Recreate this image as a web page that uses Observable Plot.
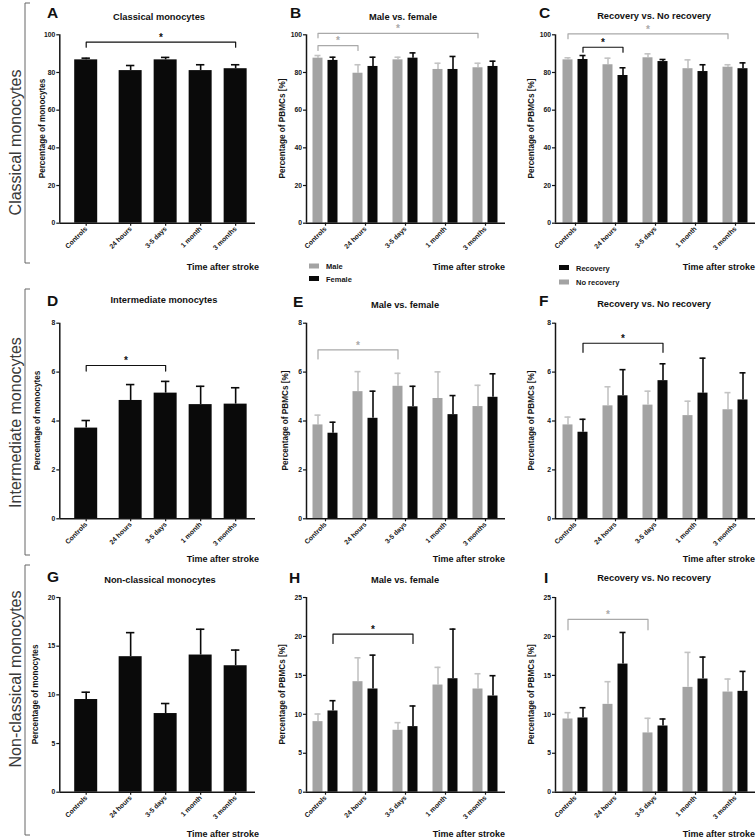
<!DOCTYPE html>
<html><head><meta charset="utf-8">
<script src="https://cdn.jsdelivr.net/npm/d3@7"></script>
<script src="https://cdn.jsdelivr.net/npm/@observablehq/plot@0.6"></script>
<style>
html,body{margin:0;padding:0;background:#fff;}
#fig{position:relative;width:756px;height:839px;overflow:hidden;font-family:"Liberation Sans",Arial,sans-serif;}
.panel{position:absolute;}
.panel svg{overflow:visible;max-width:none;}
</style></head><body><div id="fig"></div><script>
// ---------------- data ----------------
const timepoints = ["Controls", "24 hours", "3-5 days", "1 month", "3 months"];
const rowTitles = ["Classical monocytes", "Intermediate monocytes", "Non-classical monocytes"];
const panelTitles = ["Classical monocytes", "Male vs. female", "Recovery vs. No recovery",
                     "Intermediate monocytes", "Male vs. female", "Recovery vs. No recovery",
                     "Non-classical monocytes", "Male vs. female", "Recovery vs. No recovery"];
const panelLetters = ["A","B","C","D","E","F","G","H","I"];
const yLabelAll = "Percentage of monocytes";
const yLabelSub = "Percentage of PBMCs [%]";
const xTitle = "Time after stroke";
const legendSex = ["Male", "Female"];
const legendRecovery = ["Recovery", "No recovery"];

const yTicksClassical = [0, 20, 40, 60, 80, 100];
const yTicksInter = [0, 2, 4, 6, 8];
const yTicksNonclassAll = [0, 5, 10, 15, 20];
const yTicksNonclass = [0, 5, 10, 15, 20, 25];

// A
const classicalAll = [86.7, 81.0, 86.7, 81.0, 82.0];
const classicalAllSem = [0.9, 2.7, 1.3, 3.1, 2.1];
// B
const classicalMale = [87.6, 79.6, 86.7, 81.6, 82.5];
const classicalMaleSem = [1.4, 4.5, 1.4, 3.3, 2.4];
const classicalFemale = [86.4, 83.2, 87.6, 81.6, 83.2];
const classicalFemaleSem = [1.7, 4.9, 2.8, 6.9, 2.8];
// C
const classicalNoRec = [86.7, 84.1, 87.8, 82.0, 82.8];
const classicalNoRecSem = [1.1, 3.5, 2.1, 4.7, 1.3];
const classicalRec = [86.9, 78.4, 85.8, 80.5, 82.0];
const classicalRecSem = [2.1, 4.1, 1.1, 3.6, 3.1];
// D
const interAll = [3.71, 4.84, 5.14, 4.67, 4.69];
const interAllSem = [0.31, 0.65, 0.48, 0.75, 0.67];
// E
const interMale = [3.84, 5.20, 5.42, 4.92, 4.59];
const interMaleSem = [0.40, 0.82, 0.53, 1.09, 0.87];
const interFemale = [3.50, 4.11, 4.58, 4.26, 4.97];
const interFemaleSem = [0.45, 1.11, 0.84, 0.78, 0.96];
// F
const interNoRec = [3.84, 4.62, 4.65, 4.22, 4.46];
const interNoRecSem = [0.32, 0.78, 0.57, 0.59, 0.70];
const interRec = [3.54, 5.03, 5.65, 5.14, 4.86];
const interRecSem = [0.53, 1.07, 0.69, 1.43, 1.11];
// G
const nonclassAll = [9.52, 13.92, 8.08, 14.09, 12.99];
const nonclassAllSem = [0.75, 2.47, 1.03, 2.65, 1.61];
// H
const nonclassMale = [9.06, 14.19, 7.95, 13.76, 13.25];
const nonclassMaleSem = [0.98, 3.07, 0.98, 2.27, 1.96];
const nonclassFemale = [10.43, 13.25, 8.42, 14.57, 12.35];
const nonclassFemaleSem = [1.32, 4.35, 2.65, 6.37, 2.61];
// I
const nonclassNoRec = [9.40, 11.28, 7.61, 13.46, 12.86];
const nonclassNoRecSem = [0.81, 2.91, 1.88, 4.49, 1.67];
const nonclassRec = [9.53, 16.45, 8.50, 14.53, 12.95];
const nonclassRecSem = [1.32, 4.06, 0.90, 2.82, 2.56];

// significance brackets (indices into timepoints; series = which bar of the pair)
const sigA = [{from: 0, to: 4, series: 0, y: 96.1, foot: 93.4, tone: "black"}];
const sigB = [{from: 0, to: 4, series: 0, y: 100.8, foot: 98.4, tone: "grey"},
              {from: 0, to: 1, series: 0, y: 94.3, foot: 91.7, tone: "grey"}];
const sigC = [{from: 0, to: 4, series: 0, y: 100.5, foot: 97.9, tone: "grey"},
              {from: 0, to: 1, series: 1, y: 93.4, foot: 90.8, tone: "black"}];
const sigD = [{from: 0, to: 2, series: 0, y: 6.27, foot: 6.04, tone: "black"}];
const sigE = [{from: 0, to: 2, series: 0, y: 6.91, foot: 6.54, tone: "grey"}];
const sigF = [{from: 0, to: 2, series: 1, y: 7.18, foot: 6.81, tone: "black"}];
const sigG = [];
const sigH = [{from: 0, to: 2, series: 1, y: 20.3, foot: 19.1, tone: "black"}];
const sigI = [{from: 0, to: 2, series: 0, y: 22.2, foot: 20.85, tone: "grey"}];

// ---------------- styling / layout ----------------
const COLORS = {
  black: {bar: "#0a0a0a", err: "#0a0a0a", sig: "#111"},
  grey:  {bar: "#a3a3a3", err: "#c3c3c3", sig: "#a9a9a9"}
};
const FONT = "'Liberation Sans', Arial, Helvetica, sans-serif";
const CONTROL_GAP = 0.27;
const rowLayout = [
  {top: 0,   height: 280, yTop: 34.3, yBottom: 222.7, xTitleBase: 269.8, bracket: [3, 263], labelY: 142.5},
  {top: 280, height: 280, yTop: 322.7, yBottom: 518.3, xTitleBase: 562, bracket: [289, 555], labelY: 422.5},
  {top: 560, height: 279, yTop: 597, yBottom: 791.7, xTitleBase: 837, bracket: [565, 835], labelY: 679}
];
const colLayout = [
  {left: 0,   width: 256, axisX: 59.3, axisEnd: 255, firstCenter: 85.7, unit: 35, xTitleRight: 259},
  {left: 250, width: 256, axisX: 306,  axisEnd: 505, firstCenter: 325,  unit: 40, xTitleRight: 505},
  {left: 500, width: 256, axisX: 555,  axisEnd: 755, firstCenter: 575,  unit: 40, xTitleRight: 755}
];
const panels = [
  {row: 0, col: 0, yMax: 100, yTicks: yTicksClassical, yLabel: yLabelAll, sig: sigA,
   series: [{values: classicalAll, sem: classicalAllSem, tone: "black"}],
   pos: {letter: [47, 18.3], title: [159, 20], yLabelX: 41.7}},
  {row: 0, col: 1, yMax: 100, yTicks: yTicksClassical, yLabel: yLabelSub, sig: sigB,
   series: [{values: classicalMale, sem: classicalMaleSem, tone: "grey"},
            {values: classicalFemale, sem: classicalFemaleSem, tone: "black"}],
   legend: [{label: legendSex[0], tone: "grey"}, {label: legendSex[1], tone: "black"}],
   pos: {letter: [290, 18.3], title: [403, 20], yLabelX: 281.7, legend: [309, 263.5, 12.5]}},
  {row: 0, col: 2, yMax: 100, yTicks: yTicksClassical, yLabel: yLabelSub, sig: sigC,
   series: [{values: classicalNoRec, sem: classicalNoRecSem, tone: "grey"},
            {values: classicalRec, sem: classicalRecSem, tone: "black"}],
   legend: [{label: legendRecovery[0], tone: "black"}, {label: legendRecovery[1], tone: "grey"}],
   pos: {letter: [539, 18.3], title: [654, 19], yLabelX: 530.7, legend: [559, 265, 14.5]}},
  {row: 1, col: 0, yMax: 8, yTicks: yTicksInter, yLabel: yLabelAll, sig: sigD,
   series: [{values: interAll, sem: interAllSem, tone: "black"}],
   pos: {letter: [47, 306], title: [164, 302.5], yLabelX: 37.3}},
  {row: 1, col: 1, yMax: 8, yTicks: yTicksInter, yLabel: yLabelSub, sig: sigE,
   series: [{values: interMale, sem: interMaleSem, tone: "grey"},
            {values: interFemale, sem: interFemaleSem, tone: "black"}],
   pos: {letter: [293, 306.7], title: [405, 307.5], yLabelX: 285}},
  {row: 1, col: 2, yMax: 8, yTicks: yTicksInter, yLabel: yLabelSub, sig: sigF,
   series: [{values: interNoRec, sem: interNoRecSem, tone: "grey"},
            {values: interRec, sem: interRecSem, tone: "black"}],
   pos: {letter: [539, 306], title: [654, 307], yLabelX: 530.7}},
  {row: 2, col: 0, yMax: 20, yTicks: yTicksNonclassAll, yLabel: yLabelAll, sig: sigG,
   series: [{values: nonclassAll, sem: nonclassAllSem, tone: "black"}],
   pos: {letter: [47, 582], title: [160, 582.7], yLabelX: 35}},
  {row: 2, col: 1, yMax: 25, yTicks: yTicksNonclass, yLabel: yLabelSub, sig: sigH,
   series: [{values: nonclassMale, sem: nonclassMaleSem, tone: "grey"},
            {values: nonclassFemale, sem: nonclassFemaleSem, tone: "black"}],
   pos: {letter: [289, 582.7], title: [405, 583], yLabelX: 281.7}},
  {row: 2, col: 2, yMax: 25, yTicks: yTicksNonclass, yLabel: yLabelSub, sig: sigI,
   series: [{values: nonclassNoRec, sem: nonclassNoRecSem, tone: "grey"},
            {values: nonclassRec, sem: nonclassRecSem, tone: "black"}],
   pos: {letter: [544, 582.7], title: [654, 581], yLabelX: 530.7}}
];

const fig = document.getElementById("fig");

function drawPanel(p) {
  const R = rowLayout[p.row], C = colLayout[p.col];
  const grouped = p.series.length > 1;
  const unit = C.unit;
  const centers = timepoints.map((t, i) => grouped ? i : (i === 0 ? 0 : i + CONTROL_GAP));
  const labelOf = new Map(centers.map((c, i) => [c, timepoints[i]]));
  const dom0 = -(C.firstCenter - C.axisX) / unit;
  const dom1 = dom0 + (C.axisEnd - C.axisX) / unit;
  const barHalf = (grouped ? 5 : 11.5) / unit;
  const offset = grouped ? 7.5 / unit : 0;
  const capHalf = (grouped ? 3 : 4.2) / unit;
  const shiftOf = si => grouped ? (si === 0 ? -offset : offset) : 0;
  const rows = [];
  p.series.forEach((s, si) => s.values.forEach((v, i) => rows.push({
    cx: centers[i] + shiftOf(si), value: v, upper: v + s.sem[i],
    fill: COLORS[s.tone].bar, err: COLORS[s.tone].err
  })));
  const lines = [], stars = [];
  p.sig.forEach((b, k) => {
    const xa = centers[b.from] + shiftOf(b.series), xb = centers[b.to] + shiftOf(b.series);
    const c = COLORS[b.tone].sig;
    lines.push({k, x: xa, y: b.foot, c}, {k, x: xa, y: b.y, c}, {k, x: xb, y: b.y, c}, {k, x: xb, y: b.foot, c});
    stars.push({x: (xa + xb) / 2, y: b.y, c});
  });
  const width = C.width, height = R.height;
  const svg = Plot.plot({
    width, height,
    marginLeft: C.axisX - C.left, marginRight: C.left + width - C.axisEnd,
    marginTop: R.yTop - R.top, marginBottom: R.top + height - R.yBottom,
    style: {background: "transparent", overflow: "visible", fontFamily: FONT, fontSize: "6.8px", fontWeight: "bold", color: "#151515"},
    x: {type: "linear", domain: [dom0, dom1], axis: null},
    y: {type: "linear", domain: [0, p.yMax], axis: null},
    color: {type: "identity"},
    marks: [
      Plot.ruleX(rows, {x: "cx", y1: "value", y2: "upper", stroke: "err", strokeWidth: 1.6}),
      Plot.ruleY(rows, {y: "upper", x1: d => d.cx - capHalf, x2: d => d.cx + capHalf, stroke: "err", strokeWidth: 1.6}),
      Plot.rect(rows, {x1: d => d.cx - barHalf, x2: d => d.cx + barHalf, y1: 0, y2: "value", fill: "fill"}),
      Plot.line(lines, {x: "x", y: "y", z: "k", stroke: "c", strokeWidth: 1.2}),
      Plot.text(stars, {x: "x", y: "y", text: () => "*", fill: "c", fontSize: 10, fontWeight: "bold", lineAnchor: "middle", dy: -4.5}),
      Plot.axisY({ticks: p.yTicks, tickSize: 3, tickPadding: 1.5, label: null, strokeWidth: 1.2, tickFormat: d => String(d)}),
      Plot.axisX({ticks: centers, tickSize: 3, tickPadding: 1.5, tickRotate: -45, label: null, strokeWidth: 1.2, tickFormat: d => labelOf.get(d)}),
      Plot.ruleY([0], {strokeWidth: 1.5, stroke: "#151515"}),
      Plot.ruleX([dom0], {strokeWidth: 1.5, stroke: "#151515"})
    ]
  });
  const div = document.createElement("div");
  div.className = "panel";
  div.style.left = C.left + "px";
  div.style.top = R.top + "px";
  div.style.width = width + "px";
  div.style.height = height + "px";
  div.appendChild(svg);
  fig.appendChild(div);
}
panels.forEach(drawPanel);

// ---------------- annotation overlay ----------------
const ov = d3.select(fig).append("svg")
  .attr("width", 756).attr("height", 839)
  .style("position", "absolute").style("left", "0px").style("top", "0px")
  .style("pointer-events", "none")
  .attr("font-family", FONT);

rowLayout.forEach((R, r) => {
  ov.append("path")
    .attr("d", `M30,${R.bracket[0]}H25V${R.bracket[1]}H30`)
    .attr("fill", "none").attr("stroke", "#666").attr("stroke-width", 1);
  ov.append("text")
    .attr("transform", `translate(15.5,${R.labelY}) rotate(-90)`)
    .attr("text-anchor", "middle").attr("dy", "0.35em")
    .attr("font-size", 16).attr("fill", "#3a3a3a")
    .text(rowTitles[r]);
});

panels.forEach((p, i) => {
  const R = rowLayout[p.row], C = colLayout[p.col];
  ov.append("text").attr("x", p.pos.letter[0]).attr("y", p.pos.letter[1])
    .attr("font-size", 15.5).attr("font-weight", "bold").attr("fill", "#111").text(panelLetters[i]);
  ov.append("text").attr("x", p.pos.title[0]).attr("y", p.pos.title[1])
    .attr("text-anchor", "middle").attr("font-size", 9.3).attr("font-weight", "bold").attr("fill", "#111")
    .text(panelTitles[i]);
  ov.append("text")
    .attr("transform", `translate(${p.pos.yLabelX},${(R.yTop + R.yBottom) / 2}) rotate(-90)`)
    .attr("text-anchor", "middle").attr("dy", "0.35em")
    .attr("font-size", 8.2).attr("font-weight", "bold").attr("fill", "#151515")
    .text(p.yLabel);
  ov.append("text").attr("x", C.xTitleRight).attr("y", R.xTitleBase)
    .attr("text-anchor", "end").attr("font-size", 9).attr("font-weight", "bold").attr("fill", "#111")
    .text(xTitle);
  if (p.legend) {
    const [lx, ly, step] = p.pos.legend;
    p.legend.forEach((item, j) => {
      ov.append("rect").attr("x", lx).attr("y", ly + j * step).attr("width", 10).attr("height", 5)
        .attr("fill", COLORS[item.tone].bar);
      ov.append("text").attr("x", lx + 17).attr("y", ly + j * step + 5.6)
        .attr("font-size", 7.5).attr("font-weight", "bold").attr("fill", "#151515").text(item.label);
    });
  }
});
</script></body></html>
